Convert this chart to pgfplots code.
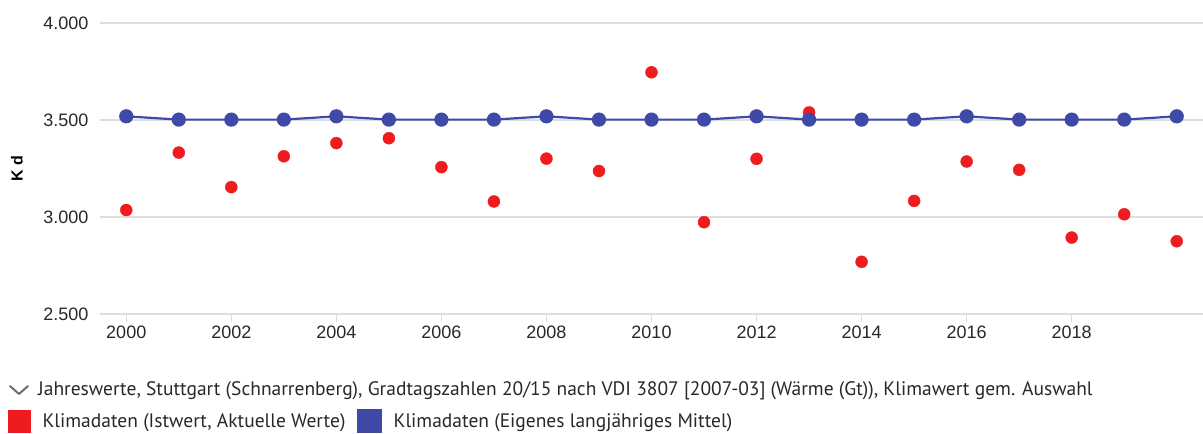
\documentclass[border=0pt]{standalone}
\usepackage{fontspec}
\setmainfont{Liberation Sans}
\newfontfamily\ptsans{PT Sans}
\usepackage{pgfplots}
\pgfplotsset{compat=1.18}
\definecolor{redpt}{RGB}{238,28,30}
\definecolor{bluept}{RGB}{63,74,168}
\definecolor{gridc}{RGB}{222,222,222}
\definecolor{txt}{RGB}{40,40,40}
\definecolor{chev}{RGB}{110,110,110}
\begin{document}
\begin{tikzpicture}[x=1pt,y=1pt]
\useasboundingbox (-100,-120) rectangle (1103,314);
\begin{axis}[
  at={(0,0)}, anchor=south west,
  scale only axis, width=1103pt, height=291pt,
  xmin=1999.5, xmax=2020.5, ymin=2500, ymax=4000,
  clip=false,
  axis x line*=bottom, axis y line*=left,
  axis line style={draw=none},
  xtick={2000,2002,...,2018},
  ytick={2500,3000,3500,4000},
  ymajorgrids,
  grid style={gridc, line width=1.5pt},
  tick align=outside,
  major tick length=8pt,
  x tick style={gridc, line width=1.5pt},
  y tick style={draw=none},
  /pgf/number format/assume math mode=true,
  xticklabel style={font=\fontsize{18}{20}\selectfont, text=txt, /pgf/number format/1000 sep={}},
  yticklabel style={font=\fontsize{18}{20}\selectfont, text=txt, /pgf/number format/.cd, fixed, 1000 sep={.}},
  ylabel={\textbf{K d}},
  ylabel style={at={(axis description cs:-0.0753,0.5)}, anchor=center, font=\fontsize{16}{18}\selectfont, text=black},
  legend columns=2,
  legend style={at={(axis description cs:-0.0834,-0.326)}, anchor=north west, draw=none, fill=none,
    font=\ptsans\fontsize{19.5}{22}\selectfont, text=txt, inner sep=0pt,
    nodes={inner sep=0pt},
    /tikz/every even column/.style={column sep=12pt},
    /tikz/every odd column/.style={column sep=12pt}},
]
\addplot[only marks, mark=*, mark size=6pt, color=redpt,
  legend image code/.code={\fill[redpt] (0pt,-11pt) rectangle (22pt,11pt);}]
coordinates {
(2000,3036) (2001,3332) (2002,3154) (2003,3313) (2004,3381) (2005,3406)
(2006,3257) (2007,3080) (2008,3301) (2009,3237) (2010,3746) (2011,2973)
(2012,3300) (2013,3539) (2014,2769) (2015,3083) (2016,3286) (2017,3243)
(2018,2894) (2019,3014) (2020,2875)
};
\addlegendentry{Klimadaten (Istwert, Aktuelle Werte)}
\addplot[color=bluept, line width=2.2pt, mark=*, mark size=6pt,
  legend image code/.code={\fill[bluept] (0pt,-11pt) rectangle (22pt,11pt);}]
coordinates {
(2000,3519) (2001,3502) (2002,3502) (2003,3502) (2004,3519) (2005,3502)
(2006,3502) (2007,3502) (2008,3519) (2009,3502) (2010,3502) (2011,3502)
(2012,3519) (2013,3502) (2014,3502) (2015,3502) (2016,3519) (2017,3502)
(2018,3502) (2019,3502) (2020,3519)
};
\addlegendentry{Klimadaten (Eigenes langjähriges Mittel)}
\end{axis}
\draw[chev, line width=2pt, line cap=round, line join=round] (-90,-72) -- (-81,-80) -- (-72,-72);
\node[anchor=west, inner sep=0pt, text=txt, font=\ptsans\fontsize{19.5}{22}\selectfont] at (-62,-77) {Jahreswerte, Stuttgart (Schnarrenberg), Gradtagszahlen 20/15 nach VDI 3807 [2007-03] (Wärme (Gt)), Klimawert gem. Auswahl};
\end{tikzpicture}
\end{document}
